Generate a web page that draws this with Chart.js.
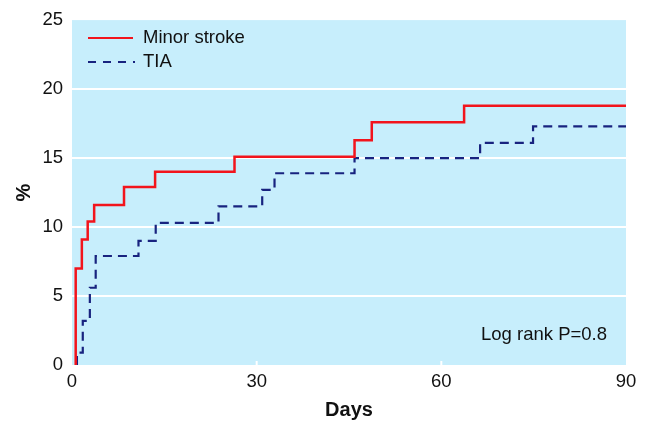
<!DOCTYPE html>
<html>
<head>
<meta charset="utf-8">
<script src="https://cdn.jsdelivr.net/npm/chart.js@4/dist/chart.umd.min.js"></script>
<style>
  html, body { margin: 0; padding: 0; background: #ffffff; }
  #wrap { width: 646px; height: 422px; }
</style>
</head>
<body>
<div id="wrap"><canvas id="c" width="646" height="422"></canvas></div>
<script>
// ---- data ----
const minorDays   = [0.6, 0.6, 1.6, 2.55, 3.6, 8.45, 13.5, 26.4, 45.9, 48.7, 63.7, 90];
const minorValues = [0, 7.0, 9.1, 10.4, 11.6, 12.9, 14.0, 15.1, 16.3, 17.6, 18.8, 18.8];
const tiaDays     = [0.8, 0.8, 1.75, 2.9, 3.85, 10.8, 13.6, 23.8, 30.9, 32.9, 45.9, 66.3, 74.9, 90];
const tiaValues   = [0, 0.9, 3.2, 5.6, 7.9, 9.0, 10.3, 11.5, 12.7, 13.9, 15.0, 16.1, 17.3, 17.3];
const xTicks = [0, 30, 60, 90];
const yTicks = [0, 5, 10, 15, 20, 25];
const seriesNames = ['Minor stroke', 'TIA'];
const annotationText = 'Log rank P=0.8';

const FONT = "'Liberation Sans', Arial, Helvetica, sans-serif";
const RED = '#f2141c';
const BLUE = '#18237f';
const BG = '#c7eefc';

function pts(xs, ys) { return xs.map((x, i) => ({ x: x, y: ys[i] })); }

const bgPlugin = {
  id: 'plotBg',
  beforeDraw(chart) {
    const { ctx, chartArea: a } = chart;
    ctx.save();
    ctx.fillStyle = BG;
    ctx.fillRect(a.left, a.top, a.right - a.left, a.bottom - a.top);
    ctx.restore();
  }
};

const overlayPlugin = {
  id: 'overlay',
  afterDraw(chart) {
    const { ctx, chartArea: a, scales } = chart;
    ctx.save();
    // small white tick marks along the bottom inside the plot
    ctx.strokeStyle = '#ffffff';
    ctx.lineWidth = 2;
    [30, 60].forEach(v => {
      const x = scales.x.getPixelForValue(v);
      ctx.beginPath();
      ctx.moveTo(x, a.bottom);
      ctx.lineTo(x, a.bottom - 4);
      ctx.stroke();
    });
    // legend
    const lx0 = a.left + 16, lx1 = a.left + 61, tx = a.left + 71;
    const ly1 = a.top + 18, ly2 = a.top + 42;
    ctx.lineWidth = 2;
    ctx.strokeStyle = RED;
    ctx.setLineDash([]);
    ctx.beginPath(); ctx.moveTo(lx0, ly1); ctx.lineTo(lx1, ly1); ctx.stroke();
    ctx.strokeStyle = BLUE;
    ctx.setLineDash([8, 7]);
    ctx.beginPath(); ctx.moveTo(lx0, ly2); ctx.lineTo(lx1 + 2, ly2); ctx.stroke();
    ctx.setLineDash([]);
    ctx.fillStyle = '#111111';
    ctx.font = '18.5px ' + FONT;
    ctx.textBaseline = 'middle';
    ctx.textAlign = 'left';
    ctx.fillText(seriesNames[0], tx, ly1);
    ctx.fillText(seriesNames[1], tx, ly2);
    // annotation
    ctx.fillText(annotationText, a.left + 409, a.top + 315);
    ctx.restore();
  }
};

new Chart(document.getElementById('c'), {
  type: 'line',
  data: {
    datasets: [
      {
        label: seriesNames[0],
        data: pts(minorDays, minorValues),
        borderColor: RED,
        borderWidth: 2.5,
        stepped: 'before',
        pointRadius: 0,
        fill: false
      },
      {
        label: seriesNames[1],
        data: pts(tiaDays, tiaValues),
        borderColor: BLUE,
        borderWidth: 2.2,
        borderDash: [9, 6],
        stepped: 'before',
        pointRadius: 0,
        fill: false
      }
    ]
  },
  options: {
    responsive: false,
    animation: false,
    events: [],
    layout: { padding: { left: 0, right: 20, top: 20, bottom: 0 } },
    plugins: { legend: { display: false }, tooltip: { enabled: false } },
    scales: {
      x: {
        type: 'linear',
        min: 0, max: 90,
        afterBuildTicks(s) { s.ticks = xTicks.map(v => ({ value: v })); },
        afterFit(s) { s.height = 57; },
        grid: { display: false, drawTicks: false },
        border: { display: false },
        ticks: { color: '#111111', font: { family: FONT, size: 18.5 }, padding: 6, maxRotation: 0 },
        title: { display: true, text: 'Days', color: '#111111', font: { family: FONT, size: 20, weight: 'bold' }, padding: { top: 0, bottom: 0 } }
      },
      y: {
        min: 0, max: 25,
        afterBuildTicks(s) { s.ticks = yTicks.map(v => ({ value: v })); },
        afterFit(s) { s.width = 72; },
        grid: {
          drawTicks: false,
          lineWidth: 2,
          color: ctx => (ctx.tick && (ctx.tick.value === 0 || ctx.tick.value === 25)) ? 'rgba(0,0,0,0)' : '#ffffff'
        },
        border: { display: false },
        ticks: { color: '#111111', font: { family: FONT, size: 18.5 }, padding: 9 },
        title: { display: true, text: '%', color: '#111111', font: { family: FONT, size: 20, weight: 'bold' }, padding: { top: 12, bottom: 0 } }
      }
    }
  },
  plugins: [bgPlugin, overlayPlugin]
});
</script>
</body>
</html>
